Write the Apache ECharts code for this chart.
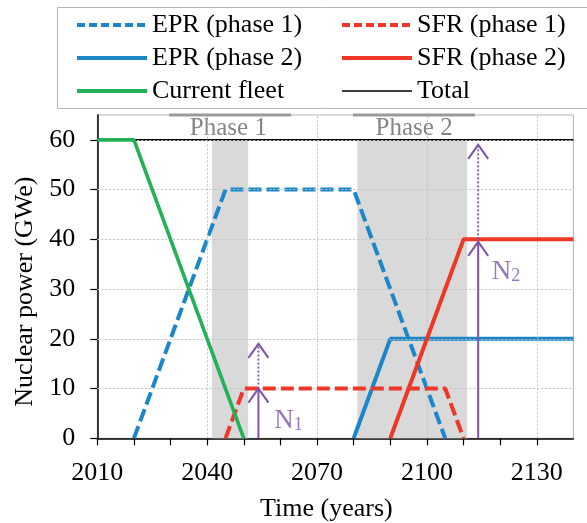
<!DOCTYPE html>
<html>
<head>
<meta charset="utf-8">
<script src="https://cdn.jsdelivr.net/npm/echarts@6/dist/echarts.min.js"></script>
<style>
  html, body { margin: 0; padding: 0; background: #fff; }
  #chart { width: 587px; height: 523px; }
</style>
</head>
<body>
<div id="chart"></div>
<script>
// Reactor fleet scenario: installed capacity (GWe) over time
const currentFleet = [[2010, 60], [2020, 60], [2050, 0]];
const eprPhase1 = [[2020, 0], [2045, 50], [2080, 50], [2105, 0]];
const sfrPhase1 = [[2045, 0], [2050, 10], [2105, 10], [2110, 0]];
const eprPhase2 = [[2080, 0], [2090, 20], [2140, 20]];
const sfrPhase2 = [[2090, 0], [2110, 40], [2140, 40]];
const total = [[2010, 60], [2140, 60]];

// Transition windows (years) and their header bars
const phaseWindows = [[2041.3, 2051.2], [2081, 2111]];
const phaseBars = [[2029.6, 2062.9], [2079.8, 2113.1]];
const phaseNames = ['Phase 1', 'Phase 2'];
const phaseLabelX = [2045.8, 2096.5];

// Arrows: [year, from, to, dotted]
const arrows = [
  [2054, 0, 10, 0], [2054, 10, 19, 1],
  [2114, 0, 39.5, 0], [2114, 40, 59, 1]
];
const arrowLabels = [
  { sub: '1', x: 2058.3, y: 3.5 },
  { sub: '2', x: 2117.7, y: 33.5 }
];

// Axis ticks and labels
const xTickValues = [2010, 2020, 2030, 2040, 2050, 2060, 2070, 2080, 2090, 2100, 2110, 2120, 2130];
const xLabelValues = [2010, 2040, 2070, 2100, 2130];
const xGridValues = [2040, 2070, 2100, 2130];
const yTickValues = [0, 10, 20, 30, 40, 50, 60];
const yGridValues = [10, 20, 30, 40, 50, 60];

const FONT = "'Liberation Serif', 'Times New Roman', 'DejaVu Serif', serif";
const BLUE = '#1b87c9';
const RED = '#ee3726';
const GREEN = '#22b155';
const PURPLE = '#7e55a6';
const DASH = [13, 5];

const chart = echarts.init(document.getElementById('chart'), null, { renderer: 'canvas' });

function lineSeries(name, data, color, width, dashed, z) {
  return {
    name, type: 'line', data, z,
    symbol: 'none', showSymbol: false, animation: false,
    lineStyle: { color, width, type: dashed ? DASH : 'solid', cap: 'butt' },
    itemStyle: { color }
  };
}

const legendText = { fontSize: 26, fontFamily: FONT, color: '#000', lineHeight: 33 };
const legendBase = {
  orient: 'vertical', top: 8.5, padding: 0, itemWidth: 70, itemHeight: 14, itemGap: 0,
  textStyle: legendText, selectedMode: false,
  lineStyle: { width: 4 },
  itemStyle: { color: 'rgba(0,0,0,0)', borderWidth: 0, opacity: 0 }
};

const option = {
  animation: false,
  backgroundColor: '#fff',
  textStyle: { fontFamily: FONT },
  grid: {
    left: 97.3, top: 115, right: 13.6, bottom: 84.7,
    containLabel: false, outerBoundsMode: 'none',
    show: true, borderColor: '#b5b5b5', borderWidth: 1, backgroundColor: 'transparent'
  },
  legend: [
    Object.assign({}, legendBase, {
      left: 75,
      data: [
        { name: 'EPR (phase 1)', lineStyle: { type: [8, 4], width: 4 } },
        { name: 'EPR (phase 2)', lineStyle: { width: 4 } },
        { name: 'Current fleet', lineStyle: { width: 4 } }
      ]
    }),
    Object.assign({}, legendBase, {
      left: 340,
      data: [
        { name: 'SFR (phase 1)', lineStyle: { type: [8, 4], width: 4 } },
        { name: 'SFR (phase 2)', lineStyle: { width: 4 } },
        { name: 'Total', lineStyle: { width: 1.6 } }
      ]
    })
  ],
  graphic: [{
    type: 'rect', silent: true,
    shape: { x: 57.5, y: 7.5, width: 560, height: 101 },
    style: { fill: null, stroke: '#b5b5b5', lineWidth: 1 }
  }],
  xAxis: {
    type: 'value', min: 2010, max: 2140, interval: 10,
    name: 'Time (years)', nameLocation: 'middle', nameGap: 58,
    nameTextStyle: { fontSize: 26, fontFamily: FONT, color: '#000', padding: [0, 18, 0, 0] },
    axisLine: { show: true, onZero: false, lineStyle: { color: '#000', width: 1.5 } },
    axisTick: { show: true, length: 7, customValues: xTickValues, lineStyle: { color: '#000', width: 1.2 } },
    axisLabel: {
      customValues: xLabelValues, fontSize: 26, fontFamily: FONT, color: '#000', margin: 22,
      formatter: v => String(v)
    },
    splitLine: { show: false }
  },
  yAxis: {
    type: 'value', min: 0, max: 65, interval: 10,
    name: 'Nuclear power (GWe)', nameLocation: 'middle', nameGap: 49, nameRotate: 90,
    nameTextStyle: { fontSize: 26, fontFamily: FONT, color: '#000', padding: [0, 30, 0, 0] },
    axisLine: { show: true, onZero: false, lineStyle: { color: '#000', width: 1.5 } },
    axisTick: { show: true, length: 7, customValues: yTickValues, lineStyle: { color: '#000', width: 1.2 } },
    axisLabel: { customValues: yTickValues, fontSize: 26, fontFamily: FONT, color: '#000', margin: 22 },
    splitLine: { show: false }
  },
  series: [
    // shaded transition windows
    {
      type: 'line', data: [], z: 1, silent: true,
      markArea: {
        silent: true,
        itemStyle: { color: '#d9d9d9', opacity: 1 },
        data: phaseWindows.map(w => [{ xAxis: w[0], yAxis: 0 }, { xAxis: w[1], yAxis: 60 }])
      }
    },
    // dotted grid
    {
      type: 'line', data: [], z: 1.5, silent: true,
      markLine: {
        silent: true, symbol: ['none', 'none'], label: { show: false },
        lineStyle: { type: [2, 2], color: '#c2c2c2', width: 1 },
        data: xGridValues.map(v => ({ xAxis: v })).concat(yGridValues.map(v => ({ yAxis: v })))
      }
    },
    // phase header bars
    ...phaseBars.map(b => ({
      type: 'line', data: [[b[0], 65], [b[1], 65]], z: 2, clip: false, silent: true,
      symbol: 'none', lineStyle: { color: '#9a9a9a', width: 3 }
    })),
    {
      type: 'scatter', z: 2, silent: true, symbolSize: 0,
      data: phaseNames.map((n, i) => ({ name: n, value: [phaseLabelX[i], 62.3] })),
      label: {
        show: true, position: 'inside', formatter: p => p.name,
        fontSize: 25, fontFamily: FONT, color: '#666666'
      }
    },
    lineSeries('Total', total, '#000', 1.6, false, 3),
    lineSeries('EPR (phase 1)', eprPhase1, BLUE, 4, true, 4),
    lineSeries('EPR (phase 2)', eprPhase2, BLUE, 4, false, 4),
    lineSeries('SFR (phase 1)', sfrPhase1, RED, 4, true, 5),
    lineSeries('SFR (phase 2)', sfrPhase2, RED, 4, false, 5),
    lineSeries('Current fleet', currentFleet, GREEN, 3.6, false, 6),
    // capacity-need arrows
    {
      type: 'custom', z: 7, silent: true, data: arrows,
      renderItem: (params, api) => {
        const x = api.value(0);
        const p0 = api.coord([x, api.value(1)]);
        const p1 = api.coord([x, api.value(2)]);
        const dotted = api.value(3) === 1;
        return {
          type: 'group',
          children: [
            {
              type: 'line',
              shape: { x1: p0[0], y1: p0[1], x2: p1[0], y2: p1[1] },
              style: { stroke: PURPLE, lineWidth: dotted ? 1.8 : 2, lineDash: dotted ? [2, 2] : null }
            },
            {
              type: 'polyline',
              shape: { points: [[p1[0] - 10, p1[1] + 14], [p1[0], p1[1]], [p1[0] + 10, p1[1] + 14]] },
              style: { stroke: PURPLE, lineWidth: 2, fill: null }
            }
          ]
        };
      }
    },
    {
      type: 'scatter', z: 8, silent: true, symbolSize: 0,
      data: arrowLabels.map(a => ({ name: a.sub, value: [a.x, a.y] })),
      label: {
        show: true, position: 'inside', align: 'left', verticalAlign: 'middle',
        formatter: p => '{n|N}{s|' + p.name + '}',
        rich: {
          n: { fontSize: 27, fontFamily: FONT, color: PURPLE, verticalAlign: 'bottom', lineHeight: 27 },
          s: { fontSize: 18, fontFamily: FONT, color: PURPLE, verticalAlign: 'bottom', lineHeight: 18 }
        }
      }
    }
  ]
};

chart.setOption(option);
</script>
</body>
</html>
